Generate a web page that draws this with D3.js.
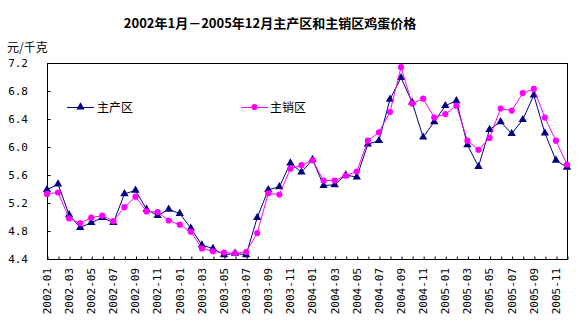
<!DOCTYPE html>
<html>
<head>
<meta charset="utf-8">
<script src="https://cdn.jsdelivr.net/npm/d3@7"></script>
<style>
  body { margin: 0; background: #fff; }
  svg { display: block; }
  .title { font-family: "Noto Sans CJK SC", sans-serif; font-weight: bold; font-size: 13px; }
  .unit { font-family: "Noto Sans CJK SC", sans-serif; font-size: 12px; }
  .tick-label { font-family: "DejaVu Sans Mono", monospace; font-size: 11px; }
  .legend { font-family: "Noto Sans CJK SC", sans-serif; font-size: 12px; }
</style>
</head>
<body>
<div id="chart"></div>
<script>
const months = [
  '2002-01','2002-02','2002-03','2002-04','2002-05','2002-06','2002-07','2002-08','2002-09','2002-10','2002-11','2002-12',
  '2003-01','2003-02','2003-03','2003-04','2003-05','2003-06','2003-07','2003-08','2003-09','2003-10','2003-11','2003-12',
  '2004-01','2004-02','2004-03','2004-04','2004-05','2004-06','2004-07','2004-08','2004-09','2004-10','2004-11','2004-12',
  '2005-01','2005-02','2005-03','2005-04','2005-05','2005-06','2005-07','2005-08','2005-09','2005-10','2005-11','2005-12'
];

// 主产区
const producing = [
  5.39, 5.47, 5.03, 4.85, 4.92, 4.99, 4.92, 5.33, 5.38, 5.11, 5.02, 5.11,
  5.05, 4.84, 4.60, 4.55, 4.46, 4.48, 4.46, 4.99, 5.39, 5.43, 5.77, 5.64,
  5.82, 5.45, 5.46, 5.60, 5.57, 6.04, 6.09, 6.68, 6.99, 6.64, 6.14, 6.36,
  6.59, 6.66, 6.03, 5.72, 6.25, 6.36, 6.19, 6.39, 6.74, 6.20, 5.81, 5.71
];

// 主销区
const selling = [
  5.33, 5.35, 4.98, 4.91, 4.99, 5.02, 4.94, 5.14, 5.29, 5.08, 5.07, 4.95,
  4.89, 4.79, 4.55, 4.51, 4.49, 4.48, 4.50, 4.77, 5.34, 5.32, 5.69, 5.74,
  5.81, 5.52, 5.52, 5.59, 5.65, 6.09, 6.21, 6.50, 7.14, 6.62, 6.69, 6.42,
  6.47, 6.59, 6.09, 5.96, 6.13, 6.55, 6.52, 6.77, 6.83, 6.42, 6.09, 5.75
];

const yTicks = [4.4, 4.8, 5.2, 5.6, 6.0, 6.4, 6.8, 7.2];
const xLabels = months.filter((m, i) => i % 2 === 0);

const width = 581, height = 326;
const plot = { left: 47, top: 63, right: 567, bottom: 259 };

const svg = d3.select('#chart').append('svg')
  .attr('width', width)
  .attr('height', height);

const x = d3.scalePoint()
  .domain(months)
  .range([plot.left, plot.right]);

const y = d3.scaleLinear()
  .domain([4.4, 7.2])
  .range([plot.bottom, plot.top]);

svg.append('text')
  .attr('class', 'title')
  .attr('x', 270)
  .attr('y', 28)
  .attr('text-anchor', 'middle')
  .text('2002年1月－2005年12月主产区和主销区鸡蛋价格');

svg.append('text')
  .attr('class', 'unit')
  .attr('x', 7)
  .attr('y', 52)
  .text('元/千克');

// frame
svg.append('rect')
  .attr('x', plot.left + 0.5)
  .attr('y', plot.top + 0.5)
  .attr('width', plot.right - plot.left)
  .attr('height', plot.bottom - plot.top)
  .attr('fill', 'none')
  .attr('stroke', '#000')
  .attr('stroke-width', 1);

// y axis (ticks inside)
const yAxis = svg.append('g')
  .attr('transform', `translate(${plot.left + 0.5},0)`)
  .call(d3.axisRight(y).tickValues(yTicks).tickSize(3).tickFormat(''));
yAxis.select('.domain').remove();
yAxis.selectAll('line').attr('stroke', '#000');

svg.append('g')
  .selectAll('text')
  .data(yTicks)
  .join('text')
  .attr('class', 'tick-label')
  .attr('x', 28)
  .attr('y', d => y(d))
  .attr('dy', '0.35em')
  .attr('text-anchor', 'end')
  .text(d3.format('.1f'));

// x axis (ticks inside)
const xAxis = svg.append('g')
  .attr('transform', `translate(0.5,${plot.bottom + 0.5})`)
  .call(d3.axisTop(x).tickSize(3).tickFormat(''));
xAxis.select('.domain').remove();
xAxis.selectAll('line').attr('stroke', '#000');

svg.append('g')
  .selectAll('text')
  .data(xLabels)
  .join('text')
  .attr('class', 'tick-label')
  .attr('transform', d => `translate(${x(d)},268) rotate(-90)`)
  .attr('dy', '0.35em')
  .attr('text-anchor', 'end')
  .text(d => d);

const series = [
  { name: '主产区', values: producing, color: '#000080', symbol: d3.symbolTriangle, size: 30, legendX: 67, textX: 97 },
  { name: '主销区', values: selling, color: '#ff00ff', symbol: d3.symbolCircle, size: 30, legendX: 241, textX: 270 }
];

const line = d3.line()
  .x((d, i) => x(months[i]))
  .y(d => y(d));

series.forEach(s => {
  const g = svg.append('g');
  g.append('path')
    .datum(s.values)
    .attr('d', line)
    .attr('fill', 'none')
    .attr('stroke', s.color)
    .attr('stroke-width', 1);

  g.selectAll('path.marker')
    .data(s.values)
    .join('path')
    .attr('class', 'marker')
    .attr('transform', (d, i) => `translate(${x(months[i])},${y(d)})`)
    .attr('d', d3.symbol().type(s.symbol).size(s.size))
    .attr('fill', s.color);

  // legend
  const ly = 107;
  g.append('line')
    .attr('x1', s.legendX)
    .attr('x2', s.legendX + 27)
    .attr('y1', ly + 0.5)
    .attr('y2', ly + 0.5)
    .attr('stroke', s.color);
  g.append('path')
    .attr('transform', `translate(${s.legendX + 13.5},${ly})`)
    .attr('d', d3.symbol().type(s.symbol).size(s.size))
    .attr('fill', s.color);
  g.append('text')
    .attr('class', 'legend')
    .attr('x', s.textX)
    .attr('y', ly)
    .attr('dy', '0.38em')
    .text(s.name);
});
</script>
</body>
</html>
